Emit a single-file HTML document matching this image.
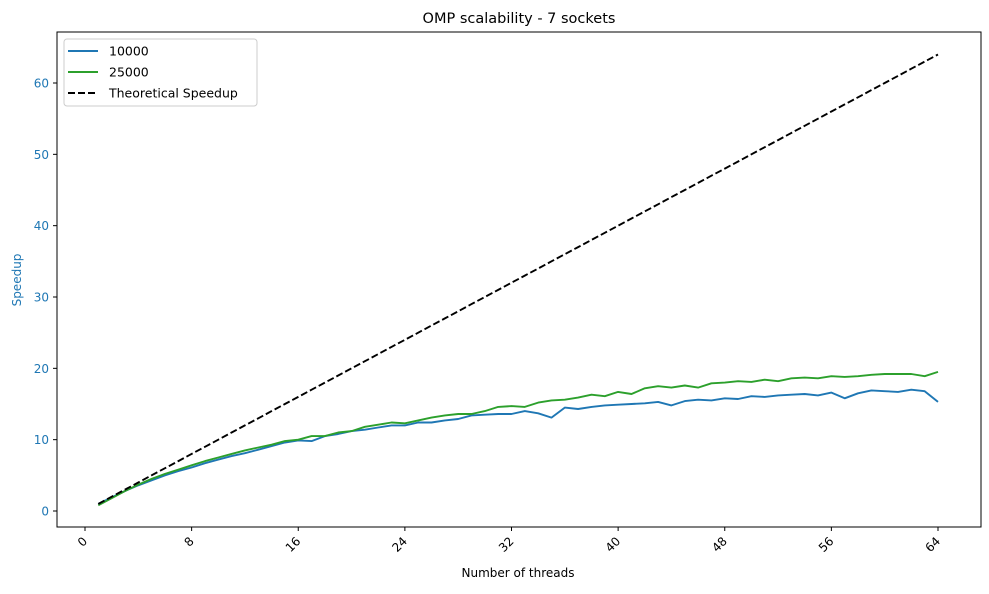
<!DOCTYPE html>
<html><head><meta charset="utf-8"><style>
body{margin:0;background:#fff;font-family:"DejaVu Sans","Liberation Sans",sans-serif;}
svg text{font-family:"DejaVu Sans","Liberation Sans",sans-serif;}
</style></head><body>
<svg id="chart" width="989" height="590" xmlns="http://www.w3.org/2000/svg">
<rect x="0" y="0" width="989" height="590" fill="#fff"/>
<text x="519" y="23" font-size="14.5" text-anchor="middle">OMP scalability - 7 sockets</text>
<g id="plot"></g>
<rect x="57" y="32" width="924" height="495" fill="none" stroke="#000" stroke-width="1"/>
<text x="518" y="577" font-size="12" text-anchor="middle">Number of threads</text>
<text x="21" y="280" font-size="12" fill="#1f77b4" text-anchor="middle" transform="rotate(-90 21 280)">Speedup</text>
<g>
<rect x="64" y="39" width="193" height="67" rx="3" fill="#fff" fill-opacity="0.8" stroke="#ccc"/>
<line x1="68" y1="51" x2="98" y2="51" stroke="#1f77b4" stroke-width="1.9"/>
<text x="109" y="55.5" font-size="12.5">10000</text>
<line x1="68" y1="72" x2="98" y2="72" stroke="#2ca02c" stroke-width="1.9"/>
<text x="109" y="76.5" font-size="12.5">25000</text>
<line x1="68" y1="93" x2="98" y2="93" stroke="#000" stroke-width="1.9" stroke-dasharray="7,3"/>
<text x="109" y="97.5" font-size="12.5">Theoretical Speedup</text>
</g>
</svg>
<script>
const threads = Array.from({length:64},(_, i)=>i+1);
const series10000 = [1.0,1.9,2.8,3.6,4.3,5.0,5.6,6.1,6.7,7.2,7.7,8.1,8.6,9.1,9.6,9.9,9.8,10.5,10.8,11.2,11.4,11.7,12.0,12.0,12.4,12.4,12.7,12.9,13.4,13.5,13.6,13.6,14.0,13.7,13.1,14.5,14.3,14.6,14.8,14.9,15.0,15.1,15.3,14.8,15.4,15.6,15.5,15.8,15.7,16.1,16.0,16.2,16.3,16.4,16.2,16.6,15.8,16.5,16.9,16.8,16.7,17.0,16.8,15.3];
const series25000 = [0.8,1.8,2.8,3.7,4.5,5.2,5.8,6.4,7.0,7.5,8.0,8.5,8.9,9.3,9.8,10.0,10.5,10.5,11.0,11.2,11.8,12.1,12.4,12.3,12.7,13.1,13.4,13.6,13.6,14.0,14.6,14.7,14.6,15.2,15.5,15.6,15.9,16.3,16.1,16.7,16.4,17.2,17.5,17.3,17.6,17.3,17.9,18.0,18.2,18.1,18.4,18.2,18.6,18.7,18.6,18.9,18.8,18.9,19.1,19.2,19.2,19.2,18.9,19.5];
const theoretical = threads.slice();
const xTicks = [0,8,16,24,32,40,48,56,64];
const yTicks = [0,10,20,30,40,50,60];

const NS="http://www.w3.org/2000/svg";
const plot=document.getElementById('plot');
function xs(v){return 85+(938-85)*v/64;}
function ys(v){return 511-(511-83)*v/60;}
function mk(tag,attrs){const e=document.createElementNS(NS,tag);for(const k in attrs)e.setAttribute(k,attrs[k]);plot.appendChild(e);return e;}

xTicks.forEach(t=>{
  const x=xs(t);
  const l=mk('line',{x1:x,y1:527,x2:x,y2:531,stroke:'#000'});
  
  
  const tx=mk('text',{x:x+3,y:542,'font-size':'12','text-anchor':'end',transform:`rotate(-45 ${x+3} 542)`});
  tx.textContent=t;
  
  
});
yTicks.forEach(t=>{
  const y=ys(t);
  const l=mk('line',{x1:53,y1:y,x2:57,y2:y,stroke:'#000'});
  
  
  const tx=mk('text',{x:49,y:y+4.5,'font-size':'12','text-anchor':'end',fill:'#1f77b4'});
  tx.textContent=t;
  
  
});
function line(vals,color,name,dash){
  const pts=vals.map((v,i)=>xs(threads[i]).toFixed(1)+','+ys(v).toFixed(1)).join(' ');
  const p=mk('polyline',{points:pts,fill:'none',stroke:color,'stroke-width':'1.9','stroke-linejoin':'round'});
  if(dash)p.setAttribute('stroke-dasharray',dash);
  
  
}
line(series10000,'#1f77b4','line-10000');
line(series25000,'#2ca02c','line-25000');
line(theoretical,'#000','line-theoretical','7,3');
</script>
</body></html>
